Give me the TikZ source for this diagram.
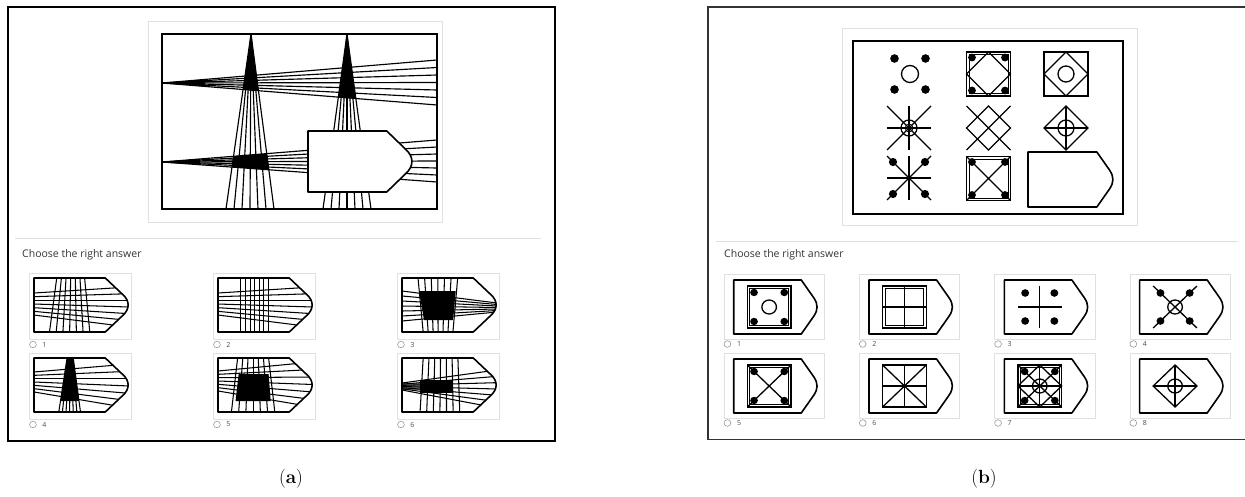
\documentclass[tikz,border=0pt]{standalone}
\usepackage{fontspec}
\newfontfamily\uifont{Open Sans}
\newcommand\pentapath[7]{(#1,#2) -- ({#1+#5*(#3-#1)},#2) -- ({#1+#6*(#3-#1)},{#2+#7*(#4-#2)}) .. controls ({#3+1},{#2+(#7+0.12)*(#4-#2)}) and ({#3+1},{#4-(#7+0.12)*(#4-#2)}) .. ({#1+#6*(#3-#1)},{#4-#7*(#4-#2)}) -- ({#1+#5*(#3-#1)},#4) -- (#1,#4) -- cycle}
\newcommand\ashape[4]{\pentapath{#1}{#2}{#3}{#4}{0.75}{0.93}{0.3}}
\newcommand\bshape[4]{\pentapath{#1}{#2}{#3}{#4}{0.81}{0.96}{0.33}}
\newcommand\athumb[4]{%
 \begin{scope}[shift={(#1,#2)},xscale=1.033]
  \draw[lframe] (-4,-5) rectangle (94,61);
  \begin{scope}\clip \ashape{0}{0}{92}{54}; #4 \end{scope}
  \draw[shp] \ashape{0}{0}{92}{54};
  \draw[radio] (-1,66.5) circle (3.3);
  \node[numlab] (an#3) at (8,66.5) {#3};
 \end{scope}}
\newcommand\bthumb[4]{%
 \begin{scope}[shift={(#1,#2)},xscale=1.0427]
  \draw[lframe] (-9,-6) rectangle (87,59);
  \draw[shp] \bshape{0}{0}{80}{54};
  \draw[radio] (-6,64) circle (3.3);
  \node[numlab] (bn#3) at (3,64) {#3};
  \begin{scope}[shift={(34,27)}] #4 \end{scope}
 \end{scope}}
\newcommand\dsq[1]{\draw[fig] (-#1,-#1) rectangle (#1,#1); \draw[fig,line width=0.8pt] ({-#1+2.4},{-#1+2.4}) rectangle ({#1-2.4},{#1-2.4});}
\newcommand\ssq[1]{\draw[fig] (-#1,-#1) rectangle (#1,#1);}
\newcommand\fdots[2]{\foreach \sx in {-1,1}{\foreach \sy in {-1,1}{\fill ({\sx*#1},{\sy*#1}) circle (#2);}}}
\newcommand\dmd[1]{\draw[fig] (0,-#1) -- (#1,0) -- (0,#1) -- (-#1,0) -- cycle;}
\newcommand\xdiag[1]{\draw[fig] (-#1,-#1) -- (#1,#1) (-#1,#1) -- (#1,-#1);}
\newcommand\crs[1]{\draw[fig] (-#1,0) -- (#1,0) (0,-#1) -- (0,#1);}
\begin{document}
\begin{tikzpicture}[x=1pt,y=-1pt,
  ray/.style={line width=1.15pt},
  tray/.style={line width=1.05pt},
  shp/.style={line width=1.6pt,line join=round},
  fig/.style={line width=1.3pt},
  lframe/.style={draw=black!12,line width=1pt},
  radio/.style={draw=black!40,line width=0.6pt},
  numlab/.style={font=\uifont\fontsize{7}{7}\selectfont,text=black!70,anchor=west,inner sep=0pt},
  hdr/.style={font=\uifont\fontsize{10.5}{10.5}\selectfont,text=black!80,anchor=west,inner sep=0pt},
  capstyle/.style={font=\fontsize{19}{19}\selectfont,inner sep=0pt},
  sep/.style={draw=black!12,line width=1.5pt}]
\useasboundingbox (0,0) rectangle (1245,496);
% ================= panel (a) =================
\draw[line width=2pt] (7.5,6.5) rectangle (555,441);
\draw[lframe] (148,21) rectangle (442,222);
\begin{scope}
 \clip (162,34) -- (437,34) -- (437,105) -- (162,83) -- cycle;
 \fill (251,34) -- (226,209) -- (274,209) -- cycle;
 \fill (347,34) -- (323,209) -- (371,209) -- cycle;
\end{scope}
\begin{scope}
 \clip (251,34) -- (226,209) -- (274,209) -- cycle;
 \fill (162,162) -- (437,140) -- (437,182) -- cycle;
\end{scope}
\fill (162,83) -- (205,{83-23*43/275}) -- (205,{83+22*43/275}) -- cycle;
\fill (162,162) -- (200,{162-22*38/275}) -- (200,{162+20*38/275}) -- cycle;
\foreach \i in {0,...,6}{
 \draw[ray] (162,83) -- (437,{60+7.5*\i});
 \draw[ray] (162,162) -- (437,{140+7*\i});
 \draw[ray] (251,34) -- ({226+8*\i},209);
 \draw[ray] (347,34) -- ({323+8*\i},209);
}
\draw[shp,fill=white] \ashape{308}{131}{413}{192};
\draw[line width=1.4pt] (162,34) rectangle (437,209);
\draw[sep] (15,238.5) -- (541,238.5);
\node[hdr] (cha) at (22,255) {Choose the right answer};
\athumb{34}{278}{1}{\foreach \i in {0,...,6}{\draw[tray] ({22+4.5*\i},0) -- ({15+6.5*\i},54); \draw[tray] (0,{15+3.67*\i}) -- (92,{9+6.67*\i});}}
\athumb{218}{278}{2}{\foreach \i in {0,...,6}{\draw[tray] ({22+4.5*\i},0) -- ({22+4.5*\i},54); \draw[tray] (0,{15+3.67*\i}) -- (92,{9+6.67*\i});}}
\athumb{402}{278}{3}{\fill (16.5,13) -- (52,13) -- (49.4,42) -- (21.3,42) -- cycle; \foreach \i in {0,...,6}{\draw[tray] ({15.5+6.4*\i},0) -- ({20.5+4.8*\i},54); \draw[tray] (0,{13+5*\i}) -- (92,{25+1.5*\i});}}
\athumb{34}{358}{4}{\fill (32,0) -- (38,0) -- (43.5,43) -- (25.7,43) -- cycle; \foreach \i in {0,...,6}{\draw[tray] ({32+1*\i},0) -- ({24+3.5*\i},54); \draw[tray] (0,{14+3.33*\i}) -- (92,{6+7.33*\i});}}
\athumb{218}{358}{5}{\fill (20,16) -- (49,16) -- (51,43) -- (17,43) -- cycle; \foreach \i in {0,...,6}{\draw[tray] ({19+5*\i},0) -- ({13+7*\i},54); \draw[tray] (0,{13+3.33*\i}) -- (92,{4+7.5*\i});}}
\athumb{402}{358}{6}{\fill[black!55] (0,25) rectangle (17.5,32); \fill (17.5,22) rectangle (49.5,35); \foreach \i in {0,...,6}{\draw[tray] ({20.5+5.6*\i},0) -- ({17.5+6.4*\i},54); \draw[tray] (0,{25+1.17*\i}) -- (92,{12+6.33*\i});}}
\node[capstyle] (la) at (291,479) {(\textbf{a})};
% ================= panel (b) =================
\draw[line width=1.6pt,black!80] (1246,7) -- (708,7) -- (708,439.5) -- (1246,439.5);
\draw[lframe] (842,28) rectangle (1137,225);
\draw[line width=1.5pt] (853,41) rectangle (1123,214);
\begin{scope}[shift={(910,74)}] \fdots{15.5}{4.3} \draw[fig] (0,0) circle (8.5); \end{scope}
\begin{scope}[shift={(988.5,74)}] \dsq{22} \dmd{22} \fdots{16.5}{3.9} \end{scope}
\begin{scope}[shift={(1066,74)}] \ssq{22} \dmd{22} \draw[fig] (0,0) circle (8); \end{scope}
\begin{scope}[shift={(909,128)}] \crs{22} \xdiag{22} \draw[fig] (0,0) circle (8); \draw[fig,line width=0.7pt] (0,0) circle (4); \fill (0,0) circle (1.8); \end{scope}
\begin{scope}[shift={(988.5,128)}] \xdiag{22} \dmd{22} \end{scope}
\begin{scope}[shift={(1066,128)}] \dmd{22} \crs{22} \draw[fig] (0,0) circle (8); \end{scope}
\begin{scope}[shift={(909,178)}] \crs{22} \xdiag{22} \fdots{16}{4.1} \fill (0,0) circle (1.8); \end{scope}
\begin{scope}[shift={(988.5,178.5)}] \dsq{22} \xdiag{22} \fdots{16.5}{3.9} \end{scope}
\draw[shp] \bshape{1028}{152}{1113}{207};
\draw[sep] (716,241.5) -- (1238,241.5);
\node[hdr] (chb) at (724,255) {Choose the right answer};
\bthumb{733.7}{280}{1}{\dsq{21} \fdots{14.5}{3.7} \draw[fig] (0,0) circle (7);}
\bthumb{869}{280}{2}{\dsq{21} \crs{21}}
\bthumb{1004.3}{280}{3}{\fdots{14}{3.8} \crs{21}}
\bthumb{1139.6}{280}{4}{\xdiag{21} \fdots{14}{3.8} \draw[fig] (0,0) circle (7);}
\bthumb{733.7}{359}{5}{\dsq{21} \xdiag{21} \fdots{14.5}{3.7}}
\bthumb{869}{359}{6}{\ssq{21} \xdiag{21} \crs{21} \fill (0,0) circle (1.8);}
\bthumb{1004.3}{359}{7}{\dsq{21} \xdiag{21} \crs{21} \dmd{21} \draw[fig] (0,0) circle (7); \fill (0,0) circle (1.6); \fdots{14.5}{3.7}}
\bthumb{1139.6}{359}{8}{\dmd{21} \crs{21} \draw[fig] (0,0) circle (7);}
\node[capstyle] (lb) at (984,479) {(\textbf{b})};
\end{tikzpicture}
\end{document}
